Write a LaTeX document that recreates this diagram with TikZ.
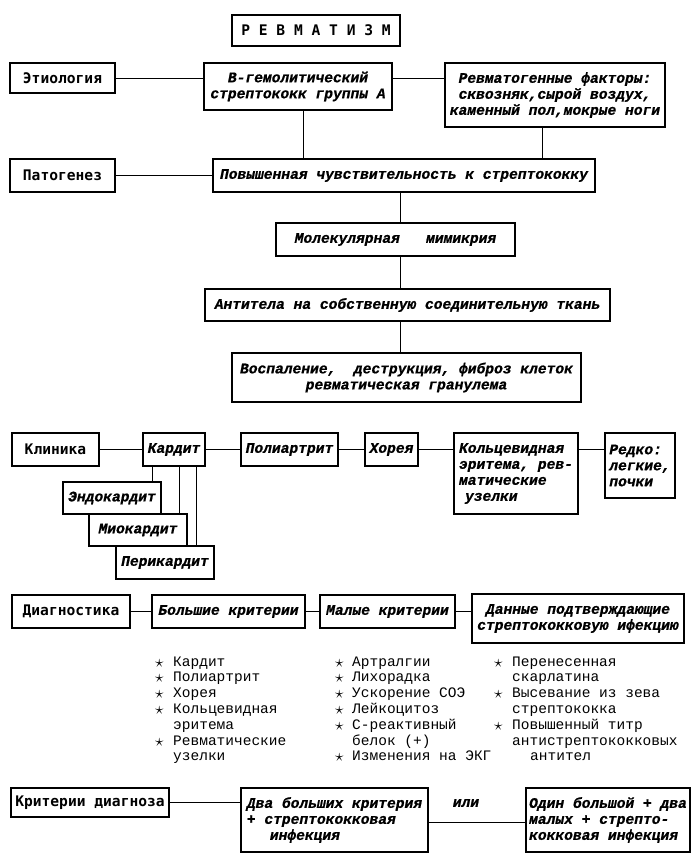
\documentclass[tikz,border=0pt]{standalone}
\usepackage{fontspec}
\newfontfamily\lblfont{DejaVu Sans Mono}
\newfontfamily\itfont{Liberation Mono}[BoldItalicFeatures={FakeBold=0.8}]
\newfontfamily\lstfont{Liberation Mono}
\usetikzlibrary{backgrounds}
\tikzset{
  box/.style={draw, fill=white, line width=1.2pt, inner sep=0pt, outer sep=0pt, align=center},
  lab/.style={box, font={\lblfont\bfseries\fontsize{14.6}{16}\selectfont}},
  itx/.style={box, font={\itfont\bfseries\itshape\fontsize{14.6}{16}\selectfont}},
  conn/.style={line width=1pt},
  litem/.style={anchor=base west, inner sep=0pt, font={\lstfont\fontsize{14.5}{16}\selectfont}},
  lstar/.style={anchor=base west, inner sep=0pt, font={\fontsize{18}{18}\selectfont}},
}
\begin{document}
\begin{tikzpicture}[x=1pt,y=-1pt]
\fill[white] (0,0) rectangle (700,862);
\useasboundingbox (0,0) rectangle (700,862);

% title and left column
\node[lab, minimum width=168pt, minimum height=31pt] (title) at (316,30.5) {Р Е В М А Т И З М};
\node[lab, minimum width=105pt, minimum height=30pt] (etio) at (62.5,78) {Этиология};
\node[lab, minimum width=105pt, minimum height=33pt] (pato) at (62.5,175.5) {Патогенез};
\node[lab, minimum width=87pt, minimum height=33pt] (klin) at (55.5,449.5) {Клиника};
\node[lab, minimum width=118pt, minimum height=33pt] (diag) at (71,611.5) {Диагностика};
\node[lab, minimum width=158pt, minimum height=29pt] (krit) at (90,802.5) {Критерии диагноза};

% etiology / pathogenesis
\node[itx, minimum width=188pt, minimum height=47pt] (bgem) at (298,86.5) {В-гемолитический\\стрептококк группы А};
\node[itx, minimum width=220pt, minimum height=64pt] (rfact) at (555,95) {Ревматогенные факторы:\\сквозняк,сырой воздух,\\каменный пол,мокрые ноги};
\node[itx, minimum width=382pt, minimum height=33pt] (povysh) at (404,175.5) {Повышенная чувствительность к стрептококку};
\node[itx, minimum width=239pt, minimum height=33pt] (molek) at (395.5,239.5) {Молекулярная\ \ \ мимикрия};
\node[itx, minimum width=405pt, minimum height=32pt] (antitela) at (407.5,305) {Антитела на собственную соединительную ткань};
\node[itx, minimum width=349pt, minimum height=49pt] (vospal) at (406.5,377.5) {Воспаление,\ \ деструкция, фиброз клеток\\ревматическая гранулема};

% clinic
\node[itx, minimum width=62pt, minimum height=33pt] (kardit) at (174,449.5) {Кардит};
\node[itx, minimum width=97pt, minimum height=33pt] (poliart) at (289.5,449.5) {Полиартрит};
\node[itx, minimum width=53pt, minimum height=33pt] (horeya) at (391.5,449.5) {Хорея};
\node[itx, align=left, minimum width=124pt, minimum height=81pt] (kolco) at (516,473.5) {Кольцевидная\\эритема, рев-\\матические\\\hspace*{6pt}узелки};
\node[itx, align=left, minimum width=70pt, minimum height=65pt] (redko) at (640,465.5) {Редко:\\легкие,\\почки};
\node[itx, minimum width=98pt, minimum height=32pt] (endo) at (112,498) {Эндокардит};
\node[itx, minimum width=98pt, minimum height=32pt] (mio) at (138,530) {Миокардит};
\node[itx, minimum width=98pt, minimum height=33pt] (peri) at (165,562.5) {Перикардит};

% diagnostics
\node[itx, minimum width=153pt, minimum height=33pt] (bolsh) at (228.5,611.5) {Большие критерии};
\node[itx, minimum width=135pt, minimum height=33pt] (malye) at (387.5,611.5) {Малые критерии};
\node[itx, minimum width=212pt, minimum height=49pt] (dannye) at (578,618.5) {Данные подтверждающие\\стрептококковую ифекцию};

% criteria
\node[itx, align=left, minimum width=187pt, minimum height=64pt] (dva) at (334.5,820) {Два больших критерия\\+ стрептококковая\\\hspace*{23pt}инфекция};
\node[itx, align=left, minimum width=164pt, minimum height=64pt] (odin) at (608,820) {Один большой + два\\малых + стрепто-\\кокковая инфекция};
\node[itx, draw=none, fill=none] (ili) at (466,803) {или};

% connectors
\begin{scope}[on background layer]
\coordinate (spend) at (54,862);
\draw[conn] (title.west) -| (spend);
\end{scope}
\draw[conn] (etio.east) -- (etio.east -| bgem.west);
\draw[conn] (etio.east -| bgem.east) -- (etio.east -| rfact.west);
\coordinate (bx) at (303,0);
\draw[conn] (bx |- bgem.south) -- (bx |- povysh.north);
\coordinate (rx) at (542,0);
\draw[conn] (rx |- rfact.south) -- (rx |- povysh.north);
\draw[conn] (pato.east) -- (povysh.west);
\coordinate (cx) at (400,0);
\draw[conn] (cx |- povysh.south) -- (cx |- molek.north);
\draw[conn] (cx |- molek.south) -- (cx |- antitela.north);
\draw[conn] (cx |- antitela.south) -- (cx |- vospal.north);

\draw[conn] (klin.east) -- (kardit.west);
\draw[conn] (kardit.east) -- (poliart.west);
\draw[conn] (poliart.east) -- (horeya.west);
\draw[conn] (horeya.east) -- (horeya.east -| kolco.west);
\draw[conn] (horeya.east -| kolco.east) -- (horeya.east -| redko.west);
\coordinate (k1) at ([xshift=9pt]kardit.south west);
\coordinate (k2) at ([xshift=36pt]kardit.south west);
\coordinate (k3) at ([xshift=53pt]kardit.south west);
\draw[conn] (k1) -- (k1 |- endo.north);
\draw[conn] (k2) -- (k2 |- mio.north);
\draw[conn] (k3) -- (k3 |- peri.north);

\draw[conn] (diag.east) -- (bolsh.west);
\draw[conn] (bolsh.east) -- (malye.west);
\draw[conn] (malye.east) -- (malye.east -| dannye.west);

\draw[conn] (krit.east) -- (krit.east -| dva.west);
\coordinate (dl) at ([yshift=-2pt]dva.east);
\draw[conn] (dl) -- (dl -| odin.west);

% lists
\foreach \t [count=\i] in {Кардит,Полиартрит,Хорея,Кольцевидная,эритема,Ревматические,узелки}
  \node[litem] (a\i) at (173,{666+(\i-1)*15.8}) {\t};
\foreach \i in {1,2,3,4,6}
  \node[lstar] (as\i) at (155,{667+(\i-1)*15.8}) {$\star$};
\foreach \t [count=\i] in {Артралгии,Лихорадка,Ускорение СОЭ,Лейкоцитоз,С-реактивный,белок (+),Изменения на ЭКГ}
  \node[litem] (b\i) at (352,{666+(\i-1)*15.8}) {\t};
\foreach \i in {1,2,3,4,5,7}
  \node[lstar] (bs\i) at (335,{667+(\i-1)*15.8}) {$\star$};
\foreach \t [count=\i] in {Перенесенная,скарлатина,Высевание из зева,стрептококка,Повышенный титр,антистрептококковых}
  \node[litem] (c\i) at (512,{666+(\i-1)*15.8}) {\t};
\node[litem] (c7) at (530,{666+6*15.8}) {антител};
\foreach \i in {1,3,5}
  \node[lstar] (cs\i) at (494,{667+(\i-1)*15.8}) {$\star$};
\end{tikzpicture}
\end{document}
